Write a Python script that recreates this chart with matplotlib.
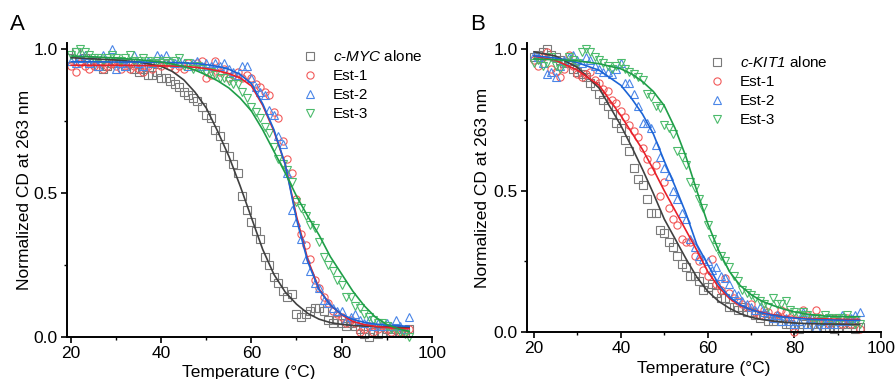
import numpy as np
import matplotlib
matplotlib.use("Agg")
import matplotlib.pyplot as plt
from matplotlib.ticker import MultipleLocator

plt.rcParams['font.family'] = ['Liberation Sans', 'DejaVu Sans']
plt.rcParams['mathtext.fontset'] = 'custom'
plt.rcParams['mathtext.it'] = 'Liberation Sans:italic'
plt.rcParams['mathtext.rm'] = 'Liberation Sans:italic'

# ---------------- data ----------------
temps = list(range(20, 96))  # measured temperatures (°C)

# Panel A (c-MYC)
a_myc = [0.97, 0.99, 0.96, 0.97, 0.95, 0.96, 0.94, 0.93, 0.94, 0.95,
         0.96, 0.95, 0.94, 0.95, 0.93, 0.92, 0.93, 0.91, 0.91, 0.92,
         0.90, 0.90, 0.89, 0.88, 0.87, 0.85, 0.84, 0.83, 0.82, 0.80,
         0.77, 0.76, 0.72, 0.70, 0.66, 0.63, 0.60, 0.57, 0.49, 0.44,
         0.40, 0.37, 0.34, 0.28, 0.25, 0.21, 0.19, 0.16, 0.14, 0.15,
         0.08, 0.07, 0.08, 0.09, 0.10, 0.10, 0.09, 0.06, 0.05, 0.06,
         0.05, 0.04, 0.05, 0.04, 0.03, 0.01, 0.00, 0.02, 0.01, 0.02,
         0.03, 0.02, 0.03, 0.02, 0.02, 0.03]
a_est1 = [0.94, 0.92, 0.95, 0.94, 0.93, 0.94, 0.95, 0.93, 0.94, 0.95,
          0.94, 0.93, 0.94, 0.93, 0.94, 0.93, 0.92, 0.94, 0.93, 0.95,
          0.94, 0.95, 0.94, 0.93, 0.94, 0.93, 0.95, 0.94, 0.95, 0.96,
          0.90, 0.91, 0.96, 0.92, 0.93, 0.90, 0.91, 0.92, 0.90, 0.91,
          0.90, 0.88, 0.87, 0.85, 0.84, 0.78, 0.76, 0.68, 0.62, 0.57,
          0.48, 0.36, 0.32, 0.27, 0.20, 0.17, 0.14, 0.12, 0.09, 0.08,
          0.07, 0.05, 0.06, 0.05, 0.02, 0.03, 0.04, 0.02, 0.03, 0.04,
          0.03, 0.02, 0.03, 0.02, 0.02, 0.03]
a_est2 = [0.96, 0.95, 0.97, 0.98, 0.95, 0.96, 0.94, 0.98, 0.96, 1.00,
          0.93, 0.95, 0.94, 0.96, 0.98, 0.95, 0.94, 0.96, 0.95, 0.98,
          0.97, 0.98, 0.96, 0.95, 0.96, 0.95, 0.94, 0.95, 0.96, 0.94,
          0.95, 0.94, 0.95, 0.94, 0.95, 0.93, 0.92, 0.91, 0.94, 0.94,
          0.90, 0.87, 0.85, 0.84, 0.79, 0.77, 0.70, 0.67, 0.57, 0.44,
          0.40, 0.34, 0.27, 0.23, 0.19, 0.17, 0.13, 0.12, 0.10, 0.09,
          0.09, 0.06, 0.07, 0.08, 0.06, 0.05, 0.06, 0.04, 0.05, 0.04,
          0.05, 0.04, 0.06, 0.04, 0.03, 0.07]
a_est3 = [0.98, 0.99, 1.00, 0.99, 0.98, 0.97, 0.97, 0.96, 0.97, 0.98,
          0.97, 0.96, 0.97, 0.98, 0.96, 0.96, 0.97, 0.96, 0.95, 0.96,
          0.95, 0.96, 0.95, 0.96, 0.97, 0.94, 0.95, 0.93, 0.94, 0.93,
          0.92, 0.92, 0.91, 0.90, 0.90, 0.89, 0.88, 0.88, 0.85, 0.83,
          0.80, 0.78, 0.76, 0.73, 0.71, 0.66, 0.62, 0.60, 0.58, 0.54,
          0.47, 0.45, 0.42, 0.39, 0.38, 0.33, 0.28, 0.25, 0.23, 0.20,
          0.18, 0.14, 0.14, 0.11, 0.10, 0.08, 0.07, 0.06, 0.05, 0.05,
          0.04, 0.03, 0.03, 0.02, 0.01, 0.00]

# Panel B (c-KIT1)
b_kit = [0.97, 0.98, 0.99, 1.00, 0.98, 0.97, 0.96, 0.95, 0.95, 0.93,
         0.92, 0.91, 0.90, 0.88, 0.87, 0.84, 0.82, 0.80, 0.77, 0.74,
         0.72, 0.68, 0.64, 0.58, 0.54, 0.52, 0.47, 0.42, 0.42, 0.36,
         0.35, 0.32, 0.30, 0.27, 0.24, 0.23, 0.20, 0.20, 0.18, 0.15,
         0.16, 0.17, 0.14, 0.12, 0.12, 0.09, 0.09, 0.08, 0.09, 0.07,
         0.07, 0.06, 0.05, 0.06, 0.04, 0.04, 0.05, 0.04, 0.03, 0.03,
         0.02, 0.01, 0.03, 0.02, 0.03, 0.02, 0.03, 0.02, 0.02, 0.01,
         0.02, 0.03, 0.02, 0.03, 0.01, 0.02]
b_est1 = [0.96, 0.94, 0.97, 0.99, 0.93, 0.92, 0.90, 0.93, 0.98, 0.94,
          0.91, 0.90, 0.91, 0.92, 0.89, 0.88, 0.86, 0.85, 0.82, 0.81,
          0.78, 0.76, 0.73, 0.71, 0.69, 0.65, 0.61, 0.57, 0.59, 0.48,
          0.53, 0.44, 0.40, 0.38, 0.33, 0.32, 0.32, 0.27, 0.25, 0.22,
          0.20, 0.26, 0.17, 0.15, 0.19, 0.14, 0.12, 0.11, 0.10, 0.09,
          0.10, 0.07, 0.06, 0.08, 0.07, 0.05, 0.06, 0.08, 0.07, 0.05,
          0.00, 0.06, 0.08, 0.06, 0.05, 0.08, 0.05, 0.04, 0.03, 0.05,
          0.04, 0.03, 0.05, 0.03, 0.04, 0.01]
b_est2 = [0.98, 0.97, 0.95, 0.91, 0.92, 0.90, 0.94, 0.96, 0.97, 0.98,
          0.96, 0.95, 0.97, 0.96, 0.94, 0.93, 0.92, 0.92, 0.91, 0.93,
          0.95, 0.88, 0.88, 0.84, 0.80, 0.74, 0.74, 0.72, 0.66, 0.62,
          0.58, 0.55, 0.50, 0.47, 0.42, 0.40, 0.33, 0.30, 0.27, 0.26,
          0.25, 0.22, 0.23, 0.20, 0.19, 0.17, 0.14, 0.13, 0.11, 0.10,
          0.09, 0.08, 0.09, 0.07, 0.06, 0.05, 0.06, 0.04, 0.05, 0.04,
          0.03, 0.04, 0.07, 0.03, 0.05, 0.02, 0.04, 0.03, 0.05, 0.03,
          0.04, 0.06, 0.04, 0.05, 0.06, 0.07]
b_est3 = [0.95, 0.96, 0.94, 0.95, 0.97, 0.94, 0.93, 0.95, 0.97, 0.96,
          0.95, 0.99, 1.00, 0.99, 0.97, 0.96, 0.95, 0.94, 0.93, 0.94,
          0.95, 0.93, 0.92, 0.91, 0.90, 0.89, 0.84, 0.83, 0.80, 0.79,
          0.73, 0.72, 0.70, 0.64, 0.62, 0.59, 0.53, 0.51, 0.47, 0.44,
          0.38, 0.33, 0.30, 0.27, 0.25, 0.23, 0.20, 0.18, 0.15, 0.14,
          0.13, 0.12, 0.11, 0.10, 0.09, 0.12, 0.10, 0.10, 0.11, 0.08,
          0.07, 0.06, 0.07, 0.06, 0.05, 0.05, 0.04, 0.06, 0.05, 0.04,
          0.05, 0.05, 0.06, 0.04, 0.03, 0.03]

# fitted curves
fit_t = [20, 25, 30, 35, 40, 42.5, 45, 47.5, 50, 52.5, 55, 57.5, 60, 62.5,
         65, 67.5, 70, 72.5, 75, 77.5, 80, 82.5, 85, 87.5, 90, 92.5, 95]
fa_myc = [0.970, 0.966, 0.962, 0.955, 0.940, 0.922, 0.893, 0.850, 0.795, 0.715,
          0.628, 0.525, 0.415, 0.305, 0.218, 0.157, 0.115, 0.083, 0.063, 0.051,
          0.045, 0.041, 0.039, 0.037, 0.036, 0.035, 0.035]
fa_est1 = [0.944, 0.944, 0.944, 0.943, 0.942, 0.941, 0.940, 0.937, 0.932, 0.925,
           0.915, 0.900, 0.872, 0.805, 0.715, 0.600, 0.420, 0.270, 0.168, 0.112,
           0.078, 0.055, 0.044, 0.038, 0.034, 0.031, 0.030]
fa_est2 = [0.956, 0.956, 0.955, 0.955, 0.954, 0.953, 0.952, 0.950, 0.946, 0.940,
           0.930, 0.912, 0.880, 0.810, 0.720, 0.600, 0.410, 0.262, 0.165, 0.112,
           0.080, 0.062, 0.052, 0.046, 0.042, 0.040, 0.038]
fa_est3 = [0.976, 0.973, 0.969, 0.963, 0.955, 0.948, 0.940, 0.927, 0.910, 0.890,
           0.865, 0.830, 0.785, 0.720, 0.645, 0.570, 0.490, 0.420, 0.355, 0.280,
           0.220, 0.160, 0.110, 0.070, 0.045, 0.030, 0.020]
fb_kit = [0.990, 0.975, 0.935, 0.862, 0.730, 0.655, 0.575, 0.490, 0.400, 0.330,
          0.260, 0.195, 0.145, 0.110, 0.085, 0.066, 0.053, 0.045, 0.040, 0.036,
          0.033, 0.031, 0.030, 0.029, 0.029, 0.028, 0.028]
fb_est1 = [0.975, 0.960, 0.925, 0.872, 0.765, 0.705, 0.645, 0.575, 0.500, 0.430,
           0.360, 0.290, 0.215, 0.160, 0.120, 0.095, 0.080, 0.070, 0.062, 0.056,
           0.052, 0.049, 0.048, 0.047, 0.046, 0.045, 0.045]
fb_est2 = [0.976, 0.968, 0.952, 0.925, 0.872, 0.825, 0.770, 0.700, 0.605, 0.515,
           0.420, 0.310, 0.240, 0.170, 0.125, 0.097, 0.080, 0.068, 0.060, 0.054,
           0.050, 0.047, 0.045, 0.044, 0.043, 0.042, 0.042]
fb_est3 = [0.965, 0.962, 0.958, 0.948, 0.930, 0.912, 0.885, 0.850, 0.800, 0.720,
           0.620, 0.500, 0.385, 0.290, 0.215, 0.165, 0.133, 0.110, 0.095, 0.082,
           0.072, 0.065, 0.060, 0.057, 0.056, 0.055, 0.055]

labels_a = [r'$c$-$MYC$ alone', 'Est-1', 'Est-2', 'Est-3']
labels_b = [r'$c$-$KIT1$ alone', 'Est-1', 'Est-2', 'Est-3']

# ---------------- style ----------------
markers = ['s', 'o', '^', 'v']
mcolors = ['#7a7a7a', '#f25a5a', '#4a86e8', '#4cbb6c']
lcolors = ['#404040', '#e8202a', '#1c64d6', '#1f9e48']

fig = plt.figure(figsize=(8.96, 3.79), dpi=100)
axA = fig.add_axes([0.0744, 0.110, 0.4074, 0.7757])
axB = fig.add_axes([0.5882, 0.1232, 0.3954, 0.7625])


def draw(ax, series, fits, labels, xlim, leg_anchor, ypad, xpad):
    handles = []
    for s, m, mc, lab in zip(series, markers, mcolors, labels):
        h, = ax.plot(temps, s, linestyle='none', marker=m, markersize=5.2,
                     markerfacecolor='none', markeredgecolor=mc,
                     markeredgewidth=0.8, label=lab, clip_on=False, zorder=2)
        handles.append(h)
    for f, lc in zip(fits, lcolors):
        ax.plot(fit_t, f, color=lc, lw=1.2, zorder=3)
    ax.set_xlim(*xlim)
    ax.set_ylim(0, 1.02)
    ax.spines['top'].set_visible(False)
    ax.spines['right'].set_visible(False)
    for sp in ('left', 'bottom'):
        ax.spines[sp].set_linewidth(1.4)
    ax.set_xticks([20, 40, 60, 80, 100])
    ax.set_yticks([0.0, 0.5, 1.0])
    ax.set_yticklabels(['0.0', '0.5', '1.0'])
    ax.xaxis.set_minor_locator(MultipleLocator(10))
    ax.yaxis.set_minor_locator(MultipleLocator(0.25))
    ax.tick_params(which='major', direction='out', length=4.5, width=1.2,
                   labelsize=12.5, pad=2)
    ax.tick_params(which='minor', direction='out', length=2.5, width=1.0)
    ax.set_xlabel('Temperature (°C)', fontsize=12.5, labelpad=xpad)
    ax.set_ylabel('Normalized CD at 263 nm', fontsize=12.5, labelpad=ypad)
    ax.legend(handles=handles, loc='upper left', bbox_to_anchor=leg_anchor,
              frameon=False, fontsize=11, handlelength=1.0, handletextpad=1.0,
              labelspacing=0.32, borderpad=0, borderaxespad=0, numpoints=1)


draw(axA, [a_myc, a_est1, a_est2, a_est3],
     [fa_myc, fa_est1, fa_est2, fa_est3], labels_a, (19, 100),
     (0.646, 0.979), 1.0, 2.5)
draw(axB, [b_kit, b_est1, b_est2, b_est3],
     [fb_kit, fb_est1, fb_est2, fb_est3], labels_b, (18.4, 100),
     (0.515, 0.958), 3.0, 3.0)

fig.text(10 / 896, 1 - 25 / 379, 'A', fontsize=16, va='center', ha='left')
fig.text(470 / 896, 1 - 25 / 379, 'B', fontsize=16, va='center', ha='left')

fig.savefig('out.png', dpi=100)
